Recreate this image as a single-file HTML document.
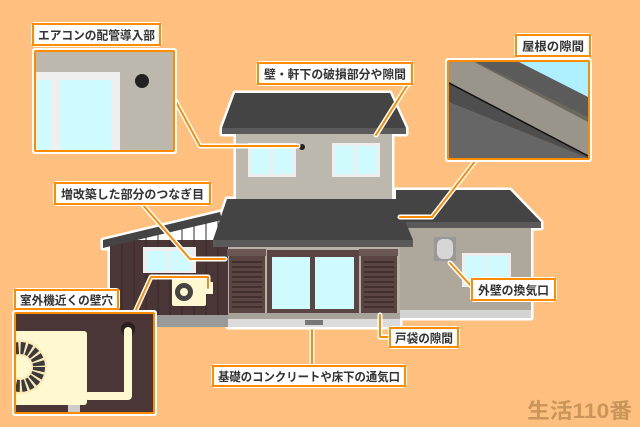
<!DOCTYPE html>
<html><head><meta charset="utf-8"><style>
html,body{margin:0;padding:0;background:#ffc07f;}
svg{display:block}
text{font-family:"Liberation Sans","Noto Sans CJK JP",sans-serif;font-weight:bold;}
</style></head><body>
<svg width="640" height="427" viewBox="0 0 640 427" xmlns="http://www.w3.org/2000/svg">
<defs><clipPath id="c1"><rect x="16" y="314" width="137" height="98"/></clipPath></defs>
<rect width="640" height="427" fill="#ffc07f"/>
<g stroke="#fff" stroke-width="5" stroke-linejoin="round" fill="#fff">
<polygon points="235,93 390,93 406,128 406,134 392,134 392,197 396,197 396,190 510,190 541,222 541,228 531,228 531,318 400,318 400,327 228,327 228,318 110,318 110,248 103,248 103,240 220,212 220,240 213,240 227,199 236,199 236,134 222,134 222,128"/>
</g>
<rect x="400" y="226" width="131" height="86" fill="#aea79b"/>
<rect x="400" y="310" width="131" height="8" fill="#d4d4d4"/>
<polygon points="396,190 510,190 541,222 396,222" fill="#444"/>
<rect x="396" y="222" width="145" height="6" fill="#5a5a5a"/>
<rect x="462" y="253" width="49" height="34" fill="#eee"/>
<rect x="465" y="256" width="20" height="28" fill="#cffbff"/><rect x="487" y="256" width="21" height="28" fill="#cffbff"/>
<rect x="434" y="237" width="22" height="24" fill="#999"/>
<rect x="437" y="239" width="16" height="20" rx="6" fill="#d6d6d6"/>
<rect x="110" y="240" width="118" height="75" fill="#4a3636"/>
<g stroke="#3a2828" stroke-width="1">
<line x1="122" y1="240" x2="122" y2="315"/><line x1="134" y1="238" x2="134" y2="315"/><line x1="146" y1="236" x2="146" y2="315"/><line x1="158" y1="232" x2="158" y2="315"/><line x1="170" y1="230" x2="170" y2="315"/><line x1="182" y1="228" x2="182" y2="315"/><line x1="194" y1="225" x2="194" y2="315"/><line x1="206" y1="222" x2="206" y2="315"/><line x1="218" y1="220" x2="218" y2="315"/>
</g>
<polygon points="103,240 220,212 222,220 103,248" fill="#444"/>
<rect x="143" y="247" width="53" height="26" fill="#eee"/>
<rect x="147" y="251" width="20" height="20" fill="#cffbff"/><rect x="170" y="251" width="21" height="20" fill="#cffbff"/>
<rect x="110" y="315" width="118" height="12" fill="#9a9a9a"/>
<rect x="172" y="278" width="34" height="28" rx="2" fill="#fff8d0"/>
<rect x="204" y="282" width="9" height="12" fill="#fff8d0"/>
<circle cx="184" cy="292" r="9" fill="#444"/><circle cx="184" cy="292" r="4" fill="#fff8d0"/>
<rect x="236" y="130" width="156" height="78" fill="#bdb8ae"/>
<polygon points="235,93 390,93 406,128 222,128" fill="#444"/>
<rect x="222" y="128" width="184" height="6" fill="#5a5a5a"/>
<rect x="248" y="143" width="48" height="34" fill="#eee"/>
<rect x="251" y="146" width="19" height="28" fill="#cffbff"/><rect x="273" y="146" width="20" height="28" fill="#cffbff"/>
<rect x="332" y="143" width="48" height="34" fill="#eee"/>
<rect x="335" y="146" width="19" height="28" fill="#cffbff"/><rect x="357" y="146" width="20" height="28" fill="#cffbff"/>
<circle cx="302" cy="147" r="3" fill="#222"/>
<rect x="228" y="245" width="172" height="70" fill="#b8b2a6"/>
<polygon points="227,199 396,199 413,240 213,240" fill="#444"/>
<rect x="213" y="240" width="200" height="7" fill="#5a5a5a"/>
<rect x="227" y="249" width="39" height="7" fill="#6b5753"/>
<rect x="229" y="256" width="36" height="57" fill="#5b4542"/>
<rect x="359" y="249" width="39" height="7" fill="#6b5753"/>
<rect x="361" y="256" width="36" height="57" fill="#5b4542"/>
<g stroke="#3a2a28" stroke-width="1.6">
<line x1="232" y1="262" x2="262" y2="262"/><line x1="232" y1="267" x2="262" y2="267"/><line x1="232" y1="272" x2="262" y2="272"/><line x1="232" y1="277" x2="262" y2="277"/><line x1="232" y1="282" x2="262" y2="282"/><line x1="232" y1="287" x2="262" y2="287"/><line x1="232" y1="292" x2="262" y2="292"/><line x1="232" y1="297" x2="262" y2="297"/><line x1="232" y1="302" x2="262" y2="302"/><line x1="232" y1="307" x2="262" y2="307"/>
<line x1="364" y1="262" x2="394" y2="262"/><line x1="364" y1="267" x2="394" y2="267"/><line x1="364" y1="272" x2="394" y2="272"/><line x1="364" y1="277" x2="394" y2="277"/><line x1="364" y1="282" x2="394" y2="282"/><line x1="364" y1="287" x2="394" y2="287"/><line x1="364" y1="292" x2="394" y2="292"/><line x1="364" y1="297" x2="394" y2="297"/><line x1="364" y1="302" x2="394" y2="302"/><line x1="364" y1="307" x2="394" y2="307"/>
</g>
<rect x="267" y="250" width="92" height="63" fill="#5b4542"/>
<rect x="272" y="257" width="38" height="52" fill="#cffbff"/><rect x="315" y="257" width="39" height="52" fill="#cffbff"/>
<rect x="228" y="313" width="172" height="6" fill="#a8a39a"/>
<rect x="228" y="319" width="172" height="8" fill="#dcdcdc"/>
<rect x="305" y="320" width="18" height="5" fill="#777"/>
<g fill="none" stroke-linejoin="round" stroke-linecap="round">
<g stroke="#fff" stroke-width="5">
<polyline points="175,100 200,146 298,146"/>
<polyline points="408,84 376,135"/>
<polyline points="476,160 432,217 400,217"/>
<polyline points="143,205 190,259 225,259"/>
<polyline points="135,312 151,277 208,277 208,288"/>
<polyline points="450,263 472,287"/>
<polyline points="380,315 380,337 390,337"/>
<polyline points="312,330 312,366"/>
</g>
<g stroke="#ff8c00" stroke-width="2">
<polyline points="175,100 200,146 298,146"/>
<polyline points="408,84 376,135"/>
<polyline points="476,160 432,217 400,217"/>
<polyline points="143,205 190,259 225,259"/>
<polyline points="135,312 151,277 208,277 208,288"/>
<polyline points="450,263 472,287"/>
<polyline points="380,315 380,337 390,337"/>
<polyline points="312,330 312,366"/>
</g>
</g>
<rect x="32" y="48" width="145" height="106" rx="3" fill="#fff"/>
<rect x="34" y="50" width="141" height="102" rx="2" fill="#ff8c00"/>
<rect x="36" y="52" width="137" height="98" fill="#bdb8ae"/>
<rect x="36" y="72" width="84" height="78" fill="#efefef"/>
<rect x="36" y="80" width="15" height="70" fill="#cffbff"/>
<rect x="60" y="80" width="52" height="70" fill="#cffbff"/>
<circle cx="142" cy="81" r="7" fill="#222"/>
<rect x="445" y="58" width="147" height="104" rx="3" fill="#fff"/>
<rect x="447" y="60" width="143" height="100" rx="2" fill="#ff8c00"/>
<svg x="449" y="62" width="139" height="96" viewBox="0 0 139 96">
<rect width="139" height="96" fill="#606060"/>
<polygon points="0,0 139,0 139,96 0,20" fill="#9a958a"/>
<polygon points="25,0 139,0 139,60" fill="#6d685e"/>
<polygon points="28,0 139,0 139,55" fill="#5b5b5b"/>
<polygon points="70,0 139,0 139,35" fill="#aef0ff"/>
<polygon points="0,20 139,93 139,96 0,96" fill="#666"/>
<line x1="0" y1="21" x2="139" y2="94" stroke="#111" stroke-width="1.5"/>
<polygon points="0,22 139,95 139,96 0,40" fill="#3e3e3e" opacity="0.6"/>
</svg>
<rect x="12" y="310" width="145" height="106" rx="3" fill="#fff"/>
<rect x="14" y="312" width="141" height="102" rx="2" fill="#ff8c00"/>
<g clip-path="url(#c1)">
<rect x="16" y="314" width="137" height="98" fill="#4a3636"/>
<circle cx="128" cy="329" r="7" fill="#2a1e1e"/>
<path d="M128,331 V396 H88" stroke="#fff8d0" stroke-width="8" fill="none" stroke-linejoin="round" stroke-linecap="round"/>
<rect x="68" y="404" width="12" height="8" fill="#ccc"/>
<rect x="10" y="331" width="77" height="74" rx="3" fill="#fff8d0"/>
<circle cx="20" cy="367" r="27" fill="#fde8b8"/>
<circle cx="20" cy="367" r="19" fill="none" stroke="#3a3a3a" stroke-width="12" stroke-dasharray="4 2"/>
<circle cx="20" cy="367" r="11" fill="#fff8d0"/>
</g>
<g>
<rect x="31" y="22" width="131" height="25" rx="4" fill="#fff"/>
<rect x="33" y="24" width="127" height="21" fill="#fff" stroke="#ff8c00" stroke-width="2"/>
<text x="38" y="39.5" font-size="12" fill="#333" textLength="117" lengthAdjust="spacingAndGlyphs">エアコンの配管導入部</text>
<rect x="256" y="61" width="158" height="25" rx="4" fill="#fff"/>
<rect x="258" y="63" width="154" height="21" fill="#fff" stroke="#ff8c00" stroke-width="2"/>
<text x="264" y="78.5" font-size="12" fill="#333" textLength="142" lengthAdjust="spacingAndGlyphs">壁・軒下の破損部分や隙間</text>
<rect x="514" y="33" width="78" height="25" rx="4" fill="#fff"/>
<rect x="516" y="35" width="74" height="21" fill="#fff" stroke="#ff8c00" stroke-width="2"/>
<text x="522" y="50.5" font-size="12" fill="#333" textLength="62" lengthAdjust="spacingAndGlyphs">屋根の隙間</text>
<rect x="53" y="181" width="159" height="25" rx="4" fill="#fff"/>
<rect x="55" y="183" width="155" height="21" fill="#fff" stroke="#ff8c00" stroke-width="2"/>
<text x="61" y="198.5" font-size="12" fill="#333" textLength="143" lengthAdjust="spacingAndGlyphs">増改築した部分のつなぎ目</text>
<rect x="13" y="288" width="107" height="23" rx="4" fill="#fff"/>
<rect x="15" y="290" width="103" height="19" fill="#fff" stroke="#ff8c00" stroke-width="2"/>
<text x="20" y="304.5" font-size="12" fill="#333" textLength="93" lengthAdjust="spacingAndGlyphs">室外機近くの壁穴</text>
<rect x="470" y="277" width="87" height="25" rx="4" fill="#fff"/>
<rect x="472" y="279" width="83" height="21" fill="#fff" stroke="#ff8c00" stroke-width="2"/>
<text x="478" y="294.5" font-size="12" fill="#333" textLength="71" lengthAdjust="spacingAndGlyphs">外壁の換気口</text>
<rect x="388" y="326" width="72" height="23" rx="4" fill="#fff"/>
<rect x="390" y="328" width="68" height="19" fill="#fff" stroke="#ff8c00" stroke-width="2"/>
<text x="395" y="342.5" font-size="12" fill="#333" textLength="58" lengthAdjust="spacingAndGlyphs">戸袋の隙間</text>
<rect x="211" y="364" width="196" height="24" rx="4" fill="#fff"/>
<rect x="213" y="366" width="192" height="20" fill="#fff" stroke="#ff8c00" stroke-width="2"/>
<text x="218" y="381" font-size="12" fill="#333" textLength="182" lengthAdjust="spacingAndGlyphs">基礎のコンクリートや床下の通気口</text>
</g>
<text x="527" y="418" font-size="21" fill="#c8955a" textLength="105" lengthAdjust="spacingAndGlyphs">生活110番</text>
</svg>
</body></html>
